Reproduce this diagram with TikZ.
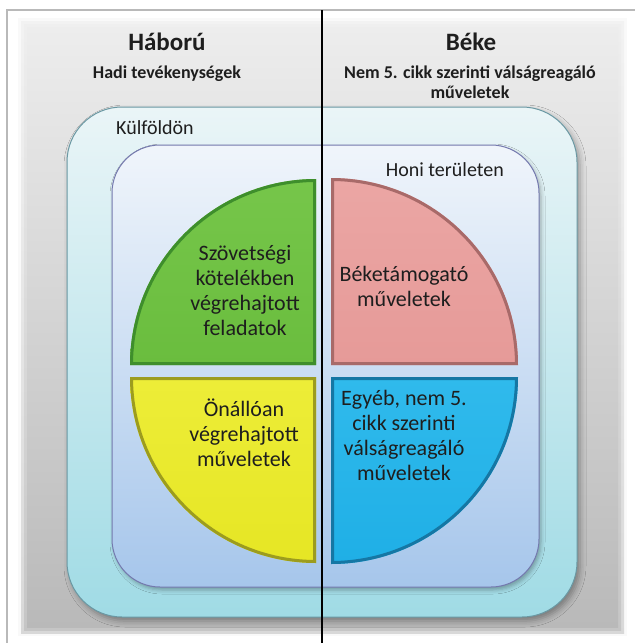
\documentclass[tikz,border=0pt]{standalone}
\usepackage{fontspec}
\setmainfont{Carlito}
\usetikzlibrary{shadows.blur}
\definecolor{panelT}{HTML}{EDEDED}
\definecolor{panelB}{HTML}{B9B9B9}
\definecolor{outT}{HTML}{EAF5F7}
\definecolor{outB}{HTML}{A0DBE5}
\definecolor{outD}{HTML}{6A98A3}
\definecolor{inT}{HTML}{F0F5FB}
\definecolor{inB}{HTML}{A6C6EB}
\definecolor{inD}{HTML}{7479AE}
\definecolor{grM}{HTML}{6ABD3E}
\definecolor{grL}{HTML}{76C64A}
\definecolor{grD}{HTML}{3E8E2C}
\definecolor{pkM}{HTML}{E69A98}
\definecolor{pkL}{HTML}{EBA6A4}
\definecolor{pkD}{HTML}{A86A69}
\definecolor{ylM}{HTML}{E6E624}
\definecolor{ylL}{HTML}{EDED38}
\definecolor{ylD}{HTML}{9C9C1E}
\definecolor{blM}{HTML}{1FAFE6}
\definecolor{blL}{HTML}{30BAEC}
\definecolor{blD}{HTML}{1577A4}
\definecolor{txt}{HTML}{1E1E1E}
\begin{document}
\begin{tikzpicture}[x=1pt,y=-1pt,
  labeltext/.style={font=\fontsize{20}{24.5}\selectfont, text=txt, inner sep=0pt},
  bodytext/.style={font=\fontsize{22}{25}\selectfont, text=txt, align=center, inner sep=0pt},
  titletext/.style={font=\fontsize{25}{28}\selectfont\bfseries, text=txt, anchor=base, inner sep=0pt},
  subtext/.style={font=\fontsize{18}{20.5}\selectfont\bfseries, text=txt, anchor=base, inner sep=0pt, align=center},
  divider/.style={line width=1.6pt, black}]
\useasboundingbox (0,0) rectangle (635,643);
\fill[white] (0,0) rectangle (635,643);
% frame
\draw[gray!55, line width=1.5pt] (7,643) -- (7,10) -- (635,10);
% gray panel with soft edges
\fill[panelT!60!white, opacity=0.5] (18,18) rectangle (627,636);
\shade[top color=panelT, bottom color=panelB, opacity=0.5] (21,21) rectangle (624,633);
\shade[top color=panelT, bottom color=panelB, opacity=0.6] (24,24) rectangle (621,630);
\shade[top color=panelT, bottom color=panelB] (27,27) rectangle (618,627);
% outer box
\shade[top color=outT, bottom color=outB, draw=outD, line width=1pt, rounded corners=55pt,
  blur shadow={shadow xshift=3pt, shadow yshift=-4pt, shadow blur radius=6pt, shadow opacity=35}]
  (67,107) rectangle (577,617);
% inner box
\shade[top color=inT, bottom color=inB, draw=inD, line width=1pt, rounded corners=48pt,
  blur shadow={shadow xshift=2pt, shadow yshift=-3pt, shadow blur radius=4pt, shadow opacity=30}]
  (112,145) rectangle (539,587);
% quadrants
\def\gpath{(316,365) -- ++(-186,0) arc[start angle=180,end angle=270,radius=186] -- cycle}
\def\ppath{(331,365) -- ++(0,-187) arc[start angle=270,end angle=360,radius=187] -- cycle}
\def\ypath{(316,377) -- ++(-186,0) arc[start angle=180,end angle=90,radius=186] -- cycle}
\def\bpath{(331,377) -- ++(187,0) arc[start angle=0,end angle=90,radius=187] -- cycle}
\begin{scope}\clip \gpath; \shade[top color=grL, bottom color=grM] \gpath; \draw[grD, line width=6pt] \gpath; \end{scope}
\begin{scope}\clip \ppath; \shade[top color=pkL, bottom color=pkM] \ppath; \draw[pkD, line width=6pt] \ppath; \end{scope}
\begin{scope}\clip \ypath; \shade[top color=ylL, bottom color=ylM] \ypath; \draw[ylD, line width=6pt] \ypath; \end{scope}
\begin{scope}\clip \bpath; \shade[top color=blL, bottom color=blM] \bpath; \draw[blD, line width=6pt] \bpath; \end{scope}
% texts
\node[titletext] (war) at (167,50) {Háború};
\node[subtext] (wars) at (167,78) {Hadi tevékenységek};
\node[titletext] (peace) at (471,50) {Béke};
\node[subtext] (peaces) at (470,78) {Nem 5. cikk szerinti válságreagáló};
\node[subtext] (peaces2) at (470,98) {műveletek};
\node[labeltext, anchor=west] (abroad) at (116,128) {Külföldön};
\node[labeltext, anchor=east] (home) at (504,170) {Honi területen};
\node[bodytext] (green) at (245,291) {Szövetségi\\kötelékben\\végrehajtott\\feladatok};
\node[bodytext] (pink) at (404,286) {Béketámogató\\műveletek};
\node[bodytext] (yellow) at (244,433) {Önállóan\\végrehajtott\\műveletek};
\node[bodytext] (blue) at (404,435) {Egyéb, nem 5.\\cikk szerinti\\válságreagáló\\műveletek};
% divider
\coordinate (dtop) at (322,10);
\coordinate (dbot) at (322,643);
\draw[divider] (dtop) -- (dbot);
\end{tikzpicture}
\end{document}
